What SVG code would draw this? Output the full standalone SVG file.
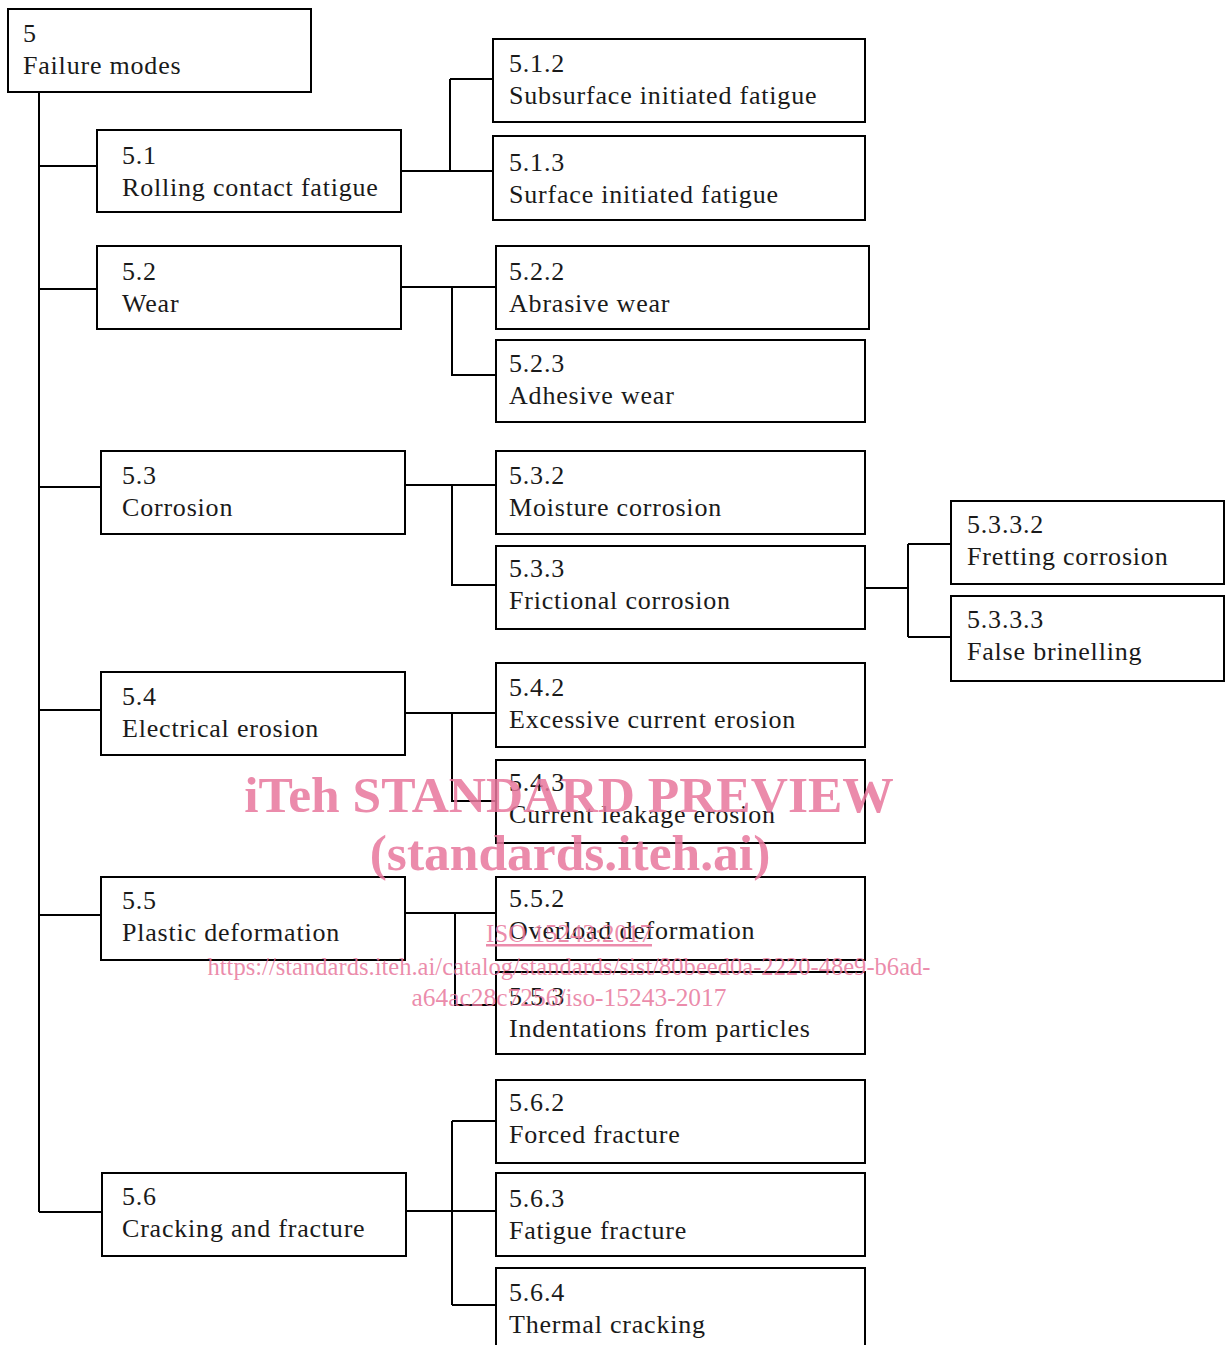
<svg xmlns="http://www.w3.org/2000/svg" width="1225" height="1345" viewBox="0 0 1225 1345">
<style>
.box{fill:#fff;stroke:#000;stroke-width:2}
.t{font-family:"Liberation Serif","DejaVu Serif",serif;font-size:26px;letter-spacing:0.8px;fill:#1a1a1a}
.c{fill:none;stroke:#000;stroke-width:2}
.wm{font-family:"Liberation Serif",serif;fill:#e8779c;fill-opacity:0.85}
</style>
<rect width="1225" height="1345" fill="#fff"/>
<g id="connectors">
<path class="c" d="M39,92V1212M39,166H97M39,289H97M39,487H101M39,710H101M39,915H101M39,1212H102"/>
<path class="c" d="M401,171H493M450,79V171M450,79H493"/>
<path class="c" d="M401,287H496M452,287V375H496"/>
<path class="c" d="M405,485H496M452,485V585H496"/>
<path class="c" d="M865,588H908M908,544V637M908,544H951M908,637H951"/>
<path class="c" d="M405,713H496M452,713V801H496"/>
<path class="c" d="M405,913H496M455,913V1005H496"/>
<path class="c" d="M406,1211H496M452,1121V1305M452,1121H496M452,1305H496"/>
</g>
<g id="n5"><rect class="box" x="8" y="9" width="303" height="83"/><text class="t" x="23" y="42">5</text><text class="t" x="23" y="74">Failure modes</text></g>
<g id="n5_1"><rect class="box" x="97" y="130" width="304" height="82"/><text class="t" x="122" y="164">5.1</text><text class="t" x="122" y="196">Rolling contact fatigue</text></g>
<g id="n5_1_2"><rect class="box" x="493" y="39" width="372" height="83"/><text class="t" x="509" y="72">5.1.2</text><text class="t" x="509" y="104">Subsurface initiated fatigue</text></g>
<g id="n5_1_3"><rect class="box" x="493" y="136" width="372" height="84"/><text class="t" x="509" y="171">5.1.3</text><text class="t" x="509" y="203">Surface initiated fatigue</text></g>
<g id="n5_2"><rect class="box" x="97" y="246" width="304" height="83"/><text class="t" x="122" y="280">5.2</text><text class="t" x="122" y="312">Wear</text></g>
<g id="n5_2_2"><rect class="box" x="496" y="246" width="373" height="83"/><text class="t" x="509" y="280">5.2.2</text><text class="t" x="509" y="312">Abrasive wear</text></g>
<g id="n5_2_3"><rect class="box" x="496" y="340" width="369" height="82"/><text class="t" x="509" y="372">5.2.3</text><text class="t" x="509" y="404">Adhesive wear</text></g>
<g id="n5_3"><rect class="box" x="101" y="451" width="304" height="83"/><text class="t" x="122" y="484">5.3</text><text class="t" x="122" y="516">Corrosion</text></g>
<g id="n5_3_2"><rect class="box" x="496" y="451" width="369" height="83"/><text class="t" x="509" y="484">5.3.2</text><text class="t" x="509" y="516">Moisture corrosion</text></g>
<g id="n5_3_3"><rect class="box" x="496" y="546" width="369" height="83"/><text class="t" x="509" y="577">5.3.3</text><text class="t" x="509" y="609">Frictional corrosion</text></g>
<g id="n5_3_3_2"><rect class="box" x="951" y="501" width="273" height="83"/><text class="t" x="967" y="533">5.3.3.2</text><text class="t" x="967" y="565">Fretting corrosion</text></g>
<g id="n5_3_3_3"><rect class="box" x="951" y="596" width="273" height="85"/><text class="t" x="967" y="628">5.3.3.3</text><text class="t" x="967" y="660">False brinelling</text></g>
<g id="n5_4"><rect class="box" x="101" y="672" width="304" height="83"/><text class="t" x="122" y="705">5.4</text><text class="t" x="122" y="737">Electrical erosion</text></g>
<g id="n5_4_2"><rect class="box" x="496" y="663" width="369" height="84"/><text class="t" x="509" y="696">5.4.2</text><text class="t" x="509" y="728">Excessive current erosion</text></g>
<g id="n5_4_3"><rect class="box" x="496" y="760" width="369" height="83"/><text class="t" x="509" y="791">5.4.3</text><text class="t" x="509" y="823">Current leakage erosion</text></g>
<g id="n5_5"><rect class="box" x="101" y="877" width="304" height="83"/><text class="t" x="122" y="909">5.5</text><text class="t" x="122" y="941">Plastic deformation</text></g>
<g id="n5_5_2"><rect class="box" x="496" y="877" width="369" height="83"/><text class="t" x="509" y="907">5.5.2</text><text class="t" x="509" y="939">Overload deformation</text></g>
<g id="n5_5_3"><rect class="box" x="496" y="972" width="369" height="82"/><text class="t" x="509" y="1005">5.5.3</text><text class="t" x="509" y="1037">Indentations from particles</text></g>
<g id="n5_6"><rect class="box" x="102" y="1173" width="304" height="83"/><text class="t" x="122" y="1205">5.6</text><text class="t" x="122" y="1237">Cracking and fracture</text></g>
<g id="n5_6_2"><rect class="box" x="496" y="1080" width="369" height="83"/><text class="t" x="509" y="1111">5.6.2</text><text class="t" x="509" y="1143">Forced fracture</text></g>
<g id="n5_6_3"><rect class="box" x="496" y="1173" width="369" height="83"/><text class="t" x="509" y="1207">5.6.3</text><text class="t" x="509" y="1239">Fatigue fracture</text></g>
<g id="n5_6_4"><rect class="box" x="496" y="1268" width="369" height="90"/><text class="t" x="509" y="1301">5.6.4</text><text class="t" x="509" y="1333">Thermal cracking</text></g>
<g id="watermark" text-anchor="middle">
<text class="wm" x="569" y="812" font-size="51.5" font-weight="bold">iTeh STANDARD PREVIEW</text>
<text class="wm" x="570" y="870" font-size="51.5" font-weight="bold">(standards.iteh.ai)</text>
<text class="wm" x="569" y="942" font-size="25" text-decoration="underline">ISO 15243:2017</text>
<text class="wm" x="569" y="975" font-size="25" textLength="723" lengthAdjust="spacingAndGlyphs">https://standards.iteh.ai/catalog/standards/sist/80beed0a-2220-48e9-b6ad-</text>
<text class="wm" x="569" y="1006" font-size="25" textLength="315" lengthAdjust="spacingAndGlyphs">a64ac28c7256/iso-15243-2017</text>
</g>
</svg>
